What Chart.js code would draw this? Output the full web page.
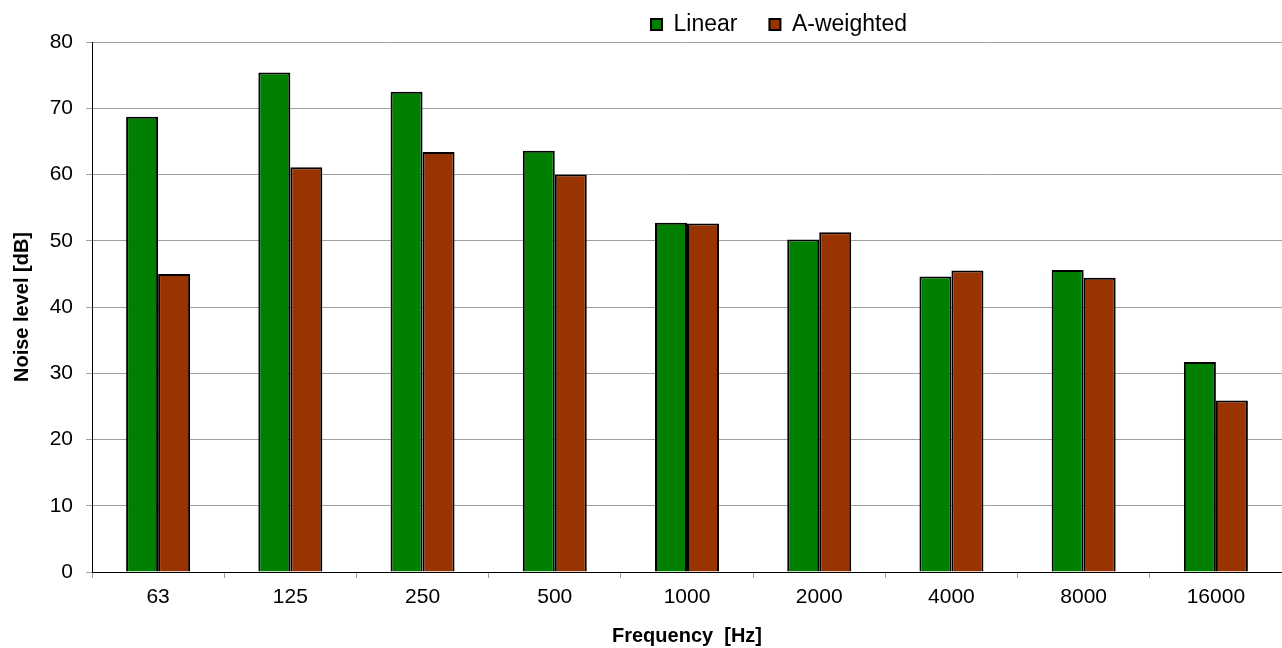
<!DOCTYPE html>
<html>
<head>
<meta charset="utf-8">
<script src="https://cdn.jsdelivr.net/npm/chart.js@4/dist/chart.umd.min.js"></script>
<style>
  html, body { margin: 0; padding: 0; background: #ffffff; }
  #wrap { width: 1282px; height: 648px; position: relative; }
</style>
</head>
<body>
<div id="wrap"><canvas id="c" width="1282" height="648"></canvas></div>
<script>
const categories = ["63", "125", "250", "500", "1000", "2000", "4000", "8000", "16000"];
const linearValues = [68.7, 75.4, 72.5, 63.6, 52.7, 50.2, 44.6, 45.6, 31.7];
const aWeightedValues = [45.0, 61.1, 63.4, 60.0, 52.6, 51.3, 45.5, 44.4, 25.9];
const seriesNames = ["Linear", "A-weighted"];
const yTicks = [0, 10, 20, 30, 40, 50, 60, 70, 80];

const FONT = "'Liberation Sans', Arial, Helvetica, sans-serif";

const layoutFix = {
  id: 'layoutFix',
  beforeUpdate(chart) {
    const lg = chart.legend;
    if (lg && !lg._fitWrapped) {
      const orig = lg.fit;
      lg.fit = function () { orig.call(this); this.height = 42; };
      lg._fitWrapped = true;
    }
  },
  afterLayout(chart) {
    const lg = chart.legend;
    if (lg) { lg.left += 138; lg.right += 138; lg.top -= 19; }
  }
};

new Chart(document.getElementById('c'), {
  type: 'bar',
  data: {
    labels: categories,
    datasets: [
      { label: seriesNames[0], data: linearValues, backgroundColor: '#008000', borderColor: '#000000', borderWidth: 2,
        categoryPercentage: 0.484, barPercentage: 1.0 },
      { label: seriesNames[1], data: aWeightedValues, backgroundColor: '#993300', borderColor: '#000000', borderWidth: 2,
        categoryPercentage: 0.484, barPercentage: 1.0 }
    ]
  },
  options: {
    responsive: false,
    animation: false,
    devicePixelRatio: 1,
    layout: { padding: 0 },
    plugins: {
      tooltip: { enabled: false },
      legend: {
        display: true,
        position: 'top',
        align: 'center',
        labels: {
          boxWidth: 11, boxHeight: 11, padding: 32, color: '#000000',
          font: { family: FONT, size: 23 }
        }
      }
    },
    scales: {
      x: {
        offset: true,
        grid: { display: true, drawOnChartArea: false, drawTicks: true, tickLength: 6, color: '#a0a0a0', offset: true },
        border: { display: true, color: '#000000', width: 1 },
        ticks: { color: '#000000', font: { family: FONT, size: 21 }, padding: 7, maxRotation: 0 },
        title: { display: true, text: 'Frequency  [Hz]', color: '#000000', font: { family: FONT, size: 20, weight: 'bold' }, padding: { top: 0, bottom: 0 } },
        afterFit(scale) { scale.height = 76; }
      },
      y: {
        min: 0, max: 80,
        afterBuildTicks(scale) { scale.ticks = yTicks.map(v => ({ value: v })); },
        grid: { display: true, color: '#a0a0a0', lineWidth: 1, drawTicks: true, tickLength: 6 },
        border: { display: true, color: '#000000', width: 1 },
        ticks: { color: '#000000', font: { family: FONT, size: 21 }, padding: 13 },
        title: { display: true, text: 'Noise level [dB]', color: '#000000', font: { family: FONT, size: 20, weight: 'bold' }, padding: { top: 10, bottom: 0 } },
        afterFit(scale) { scale.width = 92; }
      }
    }
  },
  plugins: [layoutFix]
});
</script>
</body>
</html>
